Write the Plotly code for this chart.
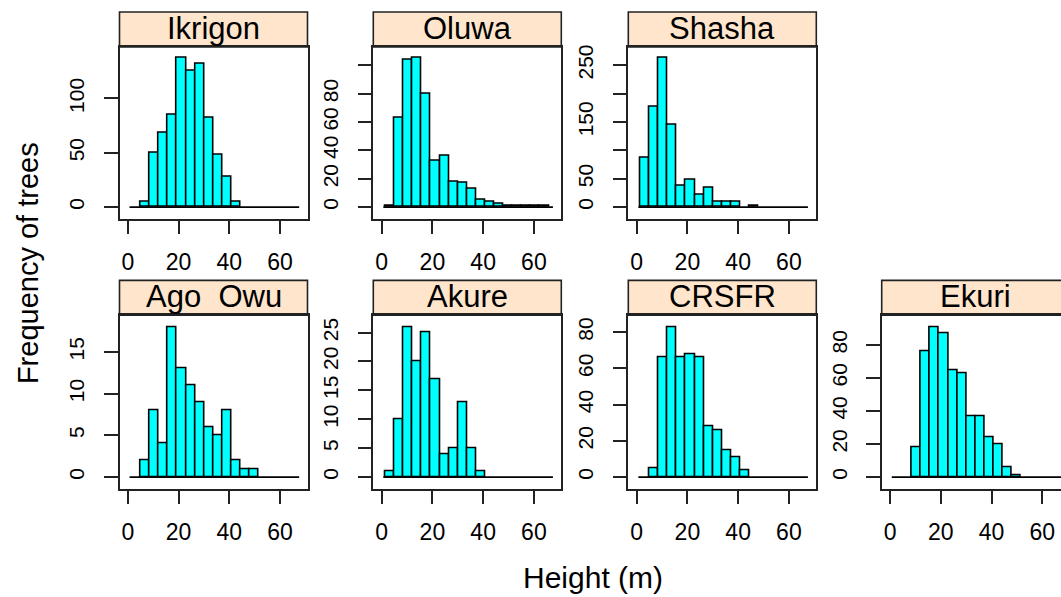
import numpy as np
import plotly.graph_objects as go

# ---------------- data ----------------
sites = ["Ikrigon", "Oluwa", "Shasha", "Ago  Owu", "Akure", "CRSFR", "Ekuri"]

bin_start = 1.45
bin_width = 3.58
n_bins = 18
height_min, height_max = 0.66, 67.5   # overall range of tree heights (m)

ikrigon = [0, 5, 50, 68, 85, 137, 125, 132, 82, 48, 28, 5, 0, 0, 0, 0, 0, 0]
oluwa = [1, 63, 104, 105, 80, 33, 36, 18, 17, 13, 5, 4, 2, 1, 1, 1, 1, 1]
shasha = [86, 176, 262, 144, 38, 48, 21, 34, 9, 9, 9, 0, 2, 0, 0, 0, 0, 0]
ago_owu = [0, 2, 8, 4, 18, 13, 11, 9, 6, 5, 8, 2, 1, 1, 0, 0, 0, 0]
akure = [1, 10, 26, 20, 25, 17, 4, 5, 13, 5, 1, 0, 0, 0, 0, 0, 0, 0]
crsfr = [0, 5, 66, 83, 66, 68, 66, 28, 26, 15, 11, 4, 0, 0, 0, 0, 0, 0]
ekuri = [0, 0, 18, 76, 91, 87, 65, 63, 37, 37, 24, 20, 6, 1, 0, 0, 0, 0]
all_counts = [ikrigon, oluwa, shasha, ago_owu, akure, crsfr, ekuri]

x_ticks = [0, 20, 40, 60]
y_tickvals = [
    [0, 50, 100],
    [0, 20, 40, 60, 80, 100],
    [0, 50, 100, 150, 200, 250],
    [0, 5, 10, 15],
    [0, 5, 10, 15, 20, 25],
    [0, 20, 40, 60, 80],
    [0, 20, 40, 60, 80],
]
y_ticktext = [
    ["0", "50", "100"],
    ["0", "20", "40", "60", "80", ""],
    ["0", "50", "", "150", "", "250"],
    ["0", "5", "10", "15"],
    ["0", "5", "10", "15", "20", "25"],
    ["0", "20", "40", "60", "80"],
    ["0", "20", "40", "60", "80"],
]

# ---------------- layout geometry ----------------
W, H = 1061, 597
panel_left = [119.5, 373.3, 628.3, 119.5, 373.3, 628.3, 881.7]
panel_row = [0, 0, 0, 1, 1, 1, 1]
row_top = [45.0, 314.3]
row_bottom = [217.3, 488.3]
panel_w = 188.0
strip_h = 35.0
x_lo, x_span = -3.3, 74.1
ppu = panel_w / x_span

FONT = "Liberation Sans, Arial, sans-serif"
LINE = "#222222"

edges = bin_start + bin_width * np.arange(n_bins + 1)
centers = (edges[:-1] + edges[1:]) / 2

fig = go.Figure()
shapes = []
annotations = []

for i, (site, counts) in enumerate(zip(sites, all_counts)):
    k = i + 1
    xa = "x" if k == 1 else f"x{k}"
    ya = "y" if k == 1 else f"y{k}"
    counts = np.array(counts)
    nz = counts > 0

    # baseline
    fig.add_trace(go.Scatter(
        x=[height_min, height_max], y=[0, 0], mode="lines",
        line=dict(color="black", width=1.6), xaxis=xa, yaxis=ya,
        showlegend=False, hoverinfo="skip"))
    fig.add_trace(go.Bar(
        x=centers[nz], y=counts[nz], width=bin_width,
        marker=dict(color="#00FFFF", line=dict(color="black", width=1.6)),
        xaxis=xa, yaxis=ya, showlegend=False))

    left = panel_left[i]
    r = panel_row[i]
    top, bottom = row_top[r], row_bottom[r]
    x0 = left / W
    x1 = min(1.0, (left + panel_w) / W)
    xr_end = x_lo + (x1 * W - left) / ppu
    m = counts.max()

    axis_common = dict(
        showline=True, linecolor=LINE, linewidth=1.6,
        ticks="outside", ticklen=14, tickwidth=1.6, tickcolor=LINE,
        showgrid=False, zeroline=False,
    )
    fig.layout[("xaxis" if k == 1 else f"xaxis{k}")] = dict(
        domain=[x0, x1], range=[x_lo, xr_end], anchor=ya,
        tickvals=x_ticks, mirror=True,
        tickfont=dict(size=23, color="black", family=FONT),
        ticklabelstandoff=8, **axis_common)
    fig.layout[("yaxis" if k == 1 else f"yaxis{k}")] = dict(
        domain=[1 - bottom / H, 1 - top / H], range=[-0.077 * m, 1.077 * m],
        anchor=xa, tickvals=y_tickvals[i], ticktext=y_ticktext[i],
        tickangle=-90, mirror=(x1 < 1.0),
        tickfont=dict(size=21, color="black", family=FONT),
        ticklabelstandoff=11, **axis_common)

    # strip
    shapes.append(dict(
        type="rect", xref="paper", yref="paper",
        x0=left / W, x1=(left + panel_w) / W,
        y0=1 - top / H, y1=1 - (top - strip_h) / H,
        fillcolor="#FFE5CC", line=dict(color=LINE, width=1.6), layer="below"))
    annotations.append(dict(
        text=site, xref="paper", yref="paper",
        x=(left + panel_w / 2) / W, y=1 - (top - strip_h / 2 - 1) / H,
        xanchor="center", yanchor="middle", showarrow=False,
        font=dict(size=31, color="black", family=FONT)))

annotations.append(dict(
    text="Height (m)", xref="paper", yref="paper",
    x=593 / W, y=1 - 577 / H, xanchor="center", yanchor="middle",
    showarrow=False, font=dict(size=30, color="black", family=FONT)))
annotations.append(dict(
    text="Frequency of trees", xref="paper", yref="paper",
    x=28 / W, y=1 - 262 / H, xanchor="center", yanchor="middle",
    textangle=-90, showarrow=False,
    font=dict(size=29, color="black", family=FONT)))

fig.update_layout(
    width=W, height=H, margin=dict(l=0, r=0, t=0, b=0),
    paper_bgcolor="white", plot_bgcolor="white",
    bargap=0, shapes=shapes, annotations=annotations,
    showlegend=False,
)

fig.write_html("out.html")
